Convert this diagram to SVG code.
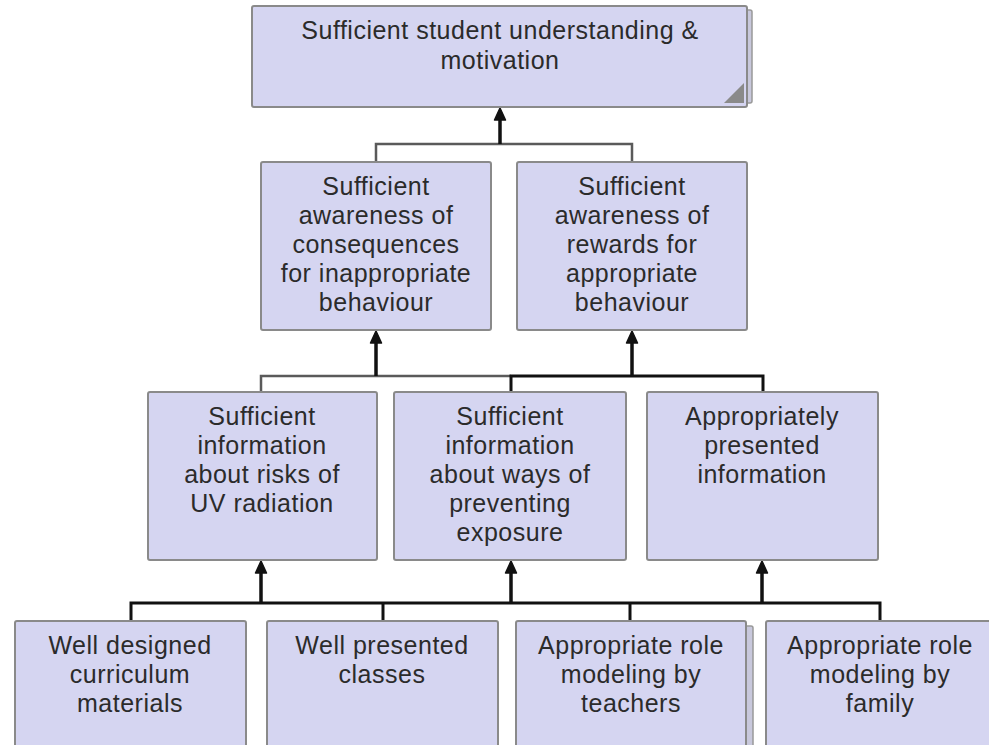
<svg xmlns="http://www.w3.org/2000/svg" width="989" height="745" viewBox="0 0 989 745">
<style>
.box{fill:#d5d5f1;stroke:#8a8a8a;stroke-width:2}
.stack{fill:#c8c8dc;stroke:#999;stroke-width:1.5}
.t{font-family:"Liberation Sans",Arial,sans-serif;font-size:25px;letter-spacing:0.5px;fill:#2b2b2b;text-anchor:middle}
.cg{fill:none;stroke:#5a5a5a;stroke-width:2.5}
.cd{fill:none;stroke:#111;stroke-width:3}
.ar{fill:none;stroke:#111;stroke-width:3.5}
.hd{fill:#111;stroke:#111;stroke-width:1.5;stroke-linejoin:round}
</style>
<rect width="989" height="745" fill="#fff"/>
<g id="connectors">
<polyline class="cg" points="376,162 376,144 632,144 632,162"/>
<line class="ar" x1="500" y1="144" x2="500" y2="119"/>
<path class="hd" d="M500 108 L505.5 120 L494.5 120 Z"/>
<polyline class="cg" points="261,392 261,376 511,376"/>
<polyline class="cd" points="511,392 511,376 763,376 763,392"/>
<line class="ar" x1="376" y1="376" x2="376" y2="342"/>
<path class="hd" d="M376 331 L381.5 343 L370.5 343 Z"/>
<line class="ar" x1="632" y1="376" x2="632" y2="342"/>
<path class="hd" d="M632 331 L637.5 343 L626.5 343 Z"/>
<polyline class="cd" points="131,621 131,603 880,603 880,621"/>
<line class="cd" x1="383" y1="603" x2="383" y2="621"/>
<line class="cd" x1="630" y1="603" x2="630" y2="621"/>
<line class="ar" x1="261" y1="603" x2="261" y2="572"/>
<path class="hd" d="M261 561 L266.5 573 L255.5 573 Z"/>
<line class="ar" x1="511" y1="603" x2="511" y2="572"/>
<path class="hd" d="M511 561 L516.5 573 L505.5 573 Z"/>
<line class="ar" x1="762" y1="603" x2="762" y2="572"/>
<path class="hd" d="M762 561 L767.5 573 L756.5 573 Z"/>
</g>
<g id="n_top">
<rect class="stack" x="256" y="10" width="496" height="93" rx="2"/>
<rect class="box" x="252" y="6" width="495" height="101" rx="2"/>
<path d="M724 103 L744 103 L744 83 Z" fill="#8a8a8a"/>
<text class="t" x="500" y="39">Sufficient student understanding &amp;</text>
<text class="t" x="500" y="69">motivation</text>
</g>
<g id="n_conseq">
<rect class="box" x="261" y="162" width="230" height="168" rx="2"/>
<text class="t" x="376" y="195">Sufficient</text>
<text class="t" x="376" y="224">awareness of</text>
<text class="t" x="376" y="253">consequences</text>
<text class="t" x="376" y="282">for inappropriate</text>
<text class="t" x="376" y="311">behaviour</text>
</g>
<g id="n_rewards">
<rect class="box" x="517" y="162" width="230" height="168" rx="2"/>
<text class="t" x="632" y="195">Sufficient</text>
<text class="t" x="632" y="224">awareness of</text>
<text class="t" x="632" y="253">rewards for</text>
<text class="t" x="632" y="282">appropriate</text>
<text class="t" x="632" y="311">behaviour</text>
</g>
<g id="n_risks">
<rect class="box" x="148" y="392" width="229" height="168" rx="2"/>
<text class="t" x="262" y="425">Sufficient</text>
<text class="t" x="262" y="454">information</text>
<text class="t" x="262" y="483">about risks of</text>
<text class="t" x="262" y="512">UV radiation</text>
</g>
<g id="n_ways">
<rect class="box" x="394" y="392" width="232" height="168" rx="2"/>
<text class="t" x="510" y="425">Sufficient</text>
<text class="t" x="510" y="454">information</text>
<text class="t" x="510" y="483">about ways of</text>
<text class="t" x="510" y="512">preventing</text>
<text class="t" x="510" y="541">exposure</text>
</g>
<g id="n_presented">
<rect class="box" x="647" y="392" width="231" height="168" rx="2"/>
<text class="t" x="762" y="425">Appropriately</text>
<text class="t" x="762" y="454">presented</text>
<text class="t" x="762" y="483">information</text>
</g>
<g id="n_curriculum">
<rect class="box" x="15" y="621" width="231" height="140" rx="2"/>
<text class="t" x="130" y="654">Well designed</text>
<text class="t" x="130" y="683">curriculum</text>
<text class="t" x="130" y="712">materials</text>
</g>
<g id="n_classes">
<rect class="box" x="267" y="621" width="231" height="140" rx="2"/>
<text class="t" x="382" y="654">Well presented</text>
<text class="t" x="382" y="683">classes</text>
</g>
<g id="n_teachers">
<rect class="stack" x="521" y="626" width="232" height="140" rx="2"/>
<rect class="box" x="516" y="621" width="230" height="140" rx="2"/>
<text class="t" x="631" y="654">Appropriate role</text>
<text class="t" x="631" y="683">modeling by</text>
<text class="t" x="631" y="712">teachers</text>
</g>
<g id="n_family">
<rect class="box" x="766" y="621" width="230" height="140" rx="2"/>
<text class="t" x="880" y="654">Appropriate role</text>
<text class="t" x="880" y="683">modeling by</text>
<text class="t" x="880" y="712">family</text>
</g>
</svg>
